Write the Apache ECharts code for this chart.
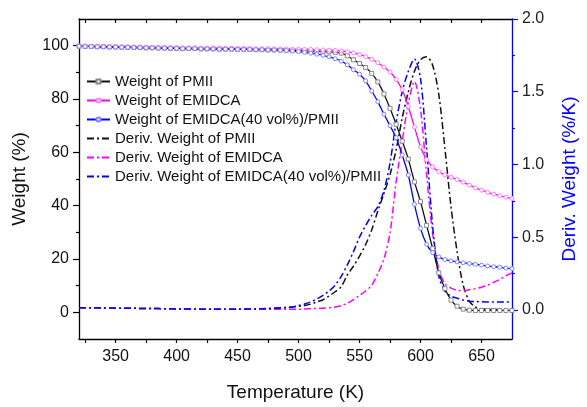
<!DOCTYPE html>
<html>
<head>
<meta charset="utf-8">
<script src="https://cdn.jsdelivr.net/npm/echarts@6/dist/echarts.min.js"></script>
<style>
html,body{margin:0;padding:0;background:#fff;}
#chart{width:587px;height:407px;}
</style>
</head>
<body>
<div id="chart"></div>
<script>
// Temperature (K)
const temps = [320,325,330,335,340,345,350,355,360,365,370,375,380,385,390,395,400,405,410,415,420,425,430,435,440,445,450,455,460,465,470,475,480,485,490,495,500,505,510,515,520,525,530,535,540,545,550,555,560,565,570,575,580,585,590,595,600,605,610,615,620,625,630,635,640,645,650,655,660,665,670,675];

// Weight (%)
const weightPMII = [99.8,99.7,99.7,99.6,99.6,99.5,99.5,99.4,99.4,99.3,99.3,99.2,99.2,99.1,99.1,99.0,99.0,98.9,98.9,98.9,98.8,98.8,98.8,98.7,98.7,98.7,98.6,98.6,98.6,98.5,98.5,98.4,98.4,
  98.35,98.3,98.2,98.1,98.0,97.95,97.9,97.8,97.7,97.5,97.2,96.2,94.7,93.3,91.8,89.6,86.4,81.9,76.5,70.5,64.2,57.5,48.9,41.5,32.6,23.9,14.8,8.9,4.6,2.3,1.2,0.8,0.7,0.7,0.7,0.7,0.7,0.7,0.7];
const weightEMIDCA = [99.9,99.9,99.8,99.8,99.7,99.7,99.6,99.6,99.5,99.5,99.5,99.4,99.4,99.4,99.3,99.3,99.3,99.2,99.2,99.2,99.1,99.1,99.1,99.1,99.0,99.0,99.0,99.0,98.9,98.9,98.9,98.9,98.8,
  98.8,98.8,98.7,98.7,98.6,98.6,98.5,98.4,98.3,98.2,98.0,97.7,97.3,96.7,95.9,94.9,93.6,92.0,90.1,87.3,83.5,77.2,69.5,62.0,57.3,54.5,52.8,51.5,50.7,49.8,48.8,47.7,46.7,45.8,45.0,44.3,43.7,43.2,42.7];
const weightMix = [99.8,99.7,99.7,99.6,99.6,99.5,99.5,99.4,99.4,99.3,99.3,99.2,99.2,99.1,99.1,99.0,99.0,98.9,98.9,98.9,98.8,98.8,98.8,98.7,98.7,98.7,98.6,98.6,98.6,98.5,98.5,98.4,98.4,
  98.3,98.2,98.0,97.8,97.5,97.2,96.8,96.4,95.8,95.1,94.2,92.8,91.0,89.3,86.8,83.0,79.0,74.3,70.0,65.5,59.0,51.5,40.5,31.5,25.5,22.4,20.8,19.8,19.3,18.9,18.6,18.3,18.0,17.7,17.4,17.1,16.9,16.6,16.4];

// Deriv. Weight (%/K)
const derivPMII = [0.015,0.015,0.014,0.014,0.013,0.013,0.012,0.012,0.011,0.011,0.010,0.010,0.009,0.009,0.008,0.008,0.007,0.007,0.006,0.006,0.005,0.005,0.005,0.004,0.004,0.004,0.004,
  0.005,0.006,0.007,0.008,0.010,0.012,0.014,0.017,0.020,0.025,0.030,0.040,0.055,0.070,0.095,0.125,0.16,0.24,0.30,0.37,0.45,0.55,0.68,0.80,0.93,1.10,1.32,1.50,1.64,1.72,1.74,1.68,1.48,1.11,0.71,0.40,0.17,0.06,0.02,0.008,0.004,0.003,0.002,0.002,0.002];
const derivEMIDCA = [0.015,0.015,0.014,0.014,0.013,0.013,0.012,0.012,0.011,0.011,0.010,0.010,0.009,0.009,0.008,0.008,0.007,0.007,0.006,0.006,0.005,0.005,0.005,0.004,0.004,0.004,0.004,
  0.004,0.004,0.004,0.004,0.004,0.004,0.005,0.005,0.005,0.005,0.006,0.008,0.010,0.012,0.015,0.020,0.030,0.045,0.070,0.10,0.13,0.17,0.25,0.35,0.53,0.88,1.16,1.42,1.57,1.38,0.93,0.52,0.28,0.18,0.15,0.135,0.133,0.138,0.146,0.156,0.17,0.19,0.21,0.235,0.255];
const derivMix = [0.015,0.015,0.014,0.014,0.013,0.013,0.012,0.012,0.011,0.011,0.010,0.010,0.009,0.009,0.008,0.008,0.007,0.007,0.006,0.006,0.005,0.005,0.005,0.004,0.004,0.004,0.004,
  0.005,0.006,0.007,0.008,0.009,0.011,0.013,0.016,0.020,0.030,0.040,0.055,0.075,0.10,0.13,0.17,0.23,0.31,0.40,0.50,0.58,0.65,0.71,0.82,1.01,1.29,1.50,1.64,1.725,1.59,1.11,0.57,0.23,0.13,0.095,0.08,0.068,0.06,0.058,0.056,0.055,0.055,0.054,0.054,0.054];

// Ticks / labels
const xLabels = [350,400,450,500,550,600,650];
const xTicks = [325,350,375,400,425,450,475,500,525,550,575,600,625,650];
const yLeftLabels = [0,20,40,60,80,100];
const yLeftMinor = [10,30,50,70,90];
const yRightLabels = [0,0.5,1.0,1.5,2.0];
const yRightMinor = [0.25,0.75,1.25,1.75];

const FONT = '"Liberation Sans", Arial, sans-serif';
const BLUE = '#0000ff';
const MAG = '#ff00ff';
const BLK = '#000000';

const pairs = arr => temps.map((t, i) => [t, arr[i]]);

const chart = echarts.init(document.getElementById('chart'), null, {renderer: 'canvas'});

function weightSeries(name, arr, color, markerColor, symbol) {
  return {
    name, type: 'line', xAxisIndex: 0, yAxisIndex: 0, data: pairs(arr),
    smooth: 0.2, showSymbol: true, symbol: symbol, symbolSize: 4,
    lineStyle: {color: color, width: 1.3},
    itemStyle: {color: '#ffffff', borderColor: markerColor, borderWidth: 1},
    emphasis: {disabled: true}, z: 3
  };
}
function derivSeries(name, arr, color) {
  return {
    name, type: 'line', xAxisIndex: 0, yAxisIndex: 2, data: pairs(arr),
    smooth: 0.3, showSymbol: false, symbol: 'none',
    lineStyle: {color: color, width: 1.5, type: [7, 3, 2, 3]},
    itemStyle: {color: color},
    emphasis: {disabled: true}, z: 2
  };
}

const option = {
  animation: false,
  backgroundColor: '#ffffff',
  grid: {left: 79, right: 68, top: 19, bottom: 61, containLabel: false},
  legend: {
    orient: 'vertical', left: 81, top: 69, itemWidth: 23, itemHeight: 5, itemGap: 4,
    textStyle: {fontSize: 15, color: '#111', fontFamily: FONT},
    data: [
      {name: 'Weight of PMII'},
      {name: 'Weight of EMIDCA'},
      {name: 'Weight of EMIDCA(40 vol%)/PMII'},
      {name: 'Deriv. Weight of PMII', itemStyle: {opacity: 0}},
      {name: 'Deriv. Weight of EMIDCA', itemStyle: {opacity: 0}},
      {name: 'Deriv. Weight of EMIDCA(40 vol%)/PMII', itemStyle: {opacity: 0}}
    ]
  },
  xAxis: [
    {
      type: 'value', min: 320, max: 675, position: 'bottom',
      axisLine: {show: true, onZero: false, lineStyle: {color: BLK, width: 1.3}},
      axisTick: {show: true, inside: false, length: 4, customValues: xTicks, lineStyle: {color: BLK, width: 1.2}},
      axisLabel: {show: true, customValues: xLabels, color: '#111', fontSize: 16, margin: 10, fontFamily: FONT},
      splitLine: {show: false},
      name: 'Temperature (K)', nameLocation: 'middle', nameGap: 44,
      nameTextStyle: {fontSize: 19, color: '#111', fontFamily: FONT}
    },
    {
      type: 'value', min: 320, max: 675, position: 'top',
      axisLine: {show: true, onZero: false, lineStyle: {color: BLK, width: 1.3}},
      axisTick: {show: true, inside: true, length: 4, customValues: xTicks, lineStyle: {color: BLK, width: 1.2}},
      axisLabel: {show: false},
      splitLine: {show: false}
    }
  ],
  yAxis: [
    {
      type: 'value', min: -10, max: 110, position: 'left',
      axisLine: {show: true, onZero: false, lineStyle: {color: BLK, width: 1.3}},
      axisTick: {show: true, inside: false, length: 6, customValues: yLeftLabels, lineStyle: {color: BLK, width: 1.2}},
      axisLabel: {show: true, customValues: yLeftLabels, color: '#111', fontSize: 16, margin: 10, fontFamily: FONT},
      splitLine: {show: false},
      name: 'Weight (%)', nameLocation: 'middle', nameGap: 50, nameRotate: 90,
      nameTextStyle: {fontSize: 19, color: '#111', fontFamily: FONT}
    },
    {
      type: 'value', min: -10, max: 110, position: 'left',
      axisLine: {show: false},
      axisTick: {show: true, inside: false, length: 3, customValues: yLeftMinor, lineStyle: {color: BLK, width: 1.2}},
      axisLabel: {show: false},
      splitLine: {show: false}
    },
    {
      type: 'value', min: -0.2, max: 2.0, position: 'right',
      axisLine: {show: true, onZero: false, lineStyle: {color: BLUE, width: 1.3}},
      axisTick: {show: true, inside: false, length: 6, customValues: yRightLabels, lineStyle: {color: BLUE, width: 1.2}},
      axisLabel: {show: true, customValues: yRightLabels, color: '#222', fontSize: 16, margin: 10, fontFamily: FONT,
                  formatter: v => Number(v).toFixed(1)},
      splitLine: {show: false},
      name: 'Deriv. Weight (%/K)', nameLocation: 'middle', nameGap: 48, nameRotate: 90,
      nameTextStyle: {fontSize: 19, color: BLUE, fontFamily: FONT}
    },
    {
      type: 'value', min: -0.2, max: 2.0, position: 'right',
      axisLine: {show: false},
      axisTick: {show: true, inside: false, length: 3, customValues: yRightMinor, lineStyle: {color: BLUE, width: 1.2}},
      axisLabel: {show: false},
      splitLine: {show: false}
    }
  ],
  series: [
    weightSeries('Weight of PMII', weightPMII, '#111111', '#888888', 'rect'),
    weightSeries('Weight of EMIDCA', weightEMIDCA, MAG, '#ff80ff', 'circle'),
    weightSeries('Weight of EMIDCA(40 vol%)/PMII', weightMix, BLUE, '#8080ff', 'circle'),
    derivSeries('Deriv. Weight of PMII', derivPMII, '#111111'),
    derivSeries('Deriv. Weight of EMIDCA', derivEMIDCA, MAG),
    derivSeries('Deriv. Weight of EMIDCA(40 vol%)/PMII', derivMix, BLUE)
  ]
};
chart.setOption(option);
</script>
</body>
</html>
